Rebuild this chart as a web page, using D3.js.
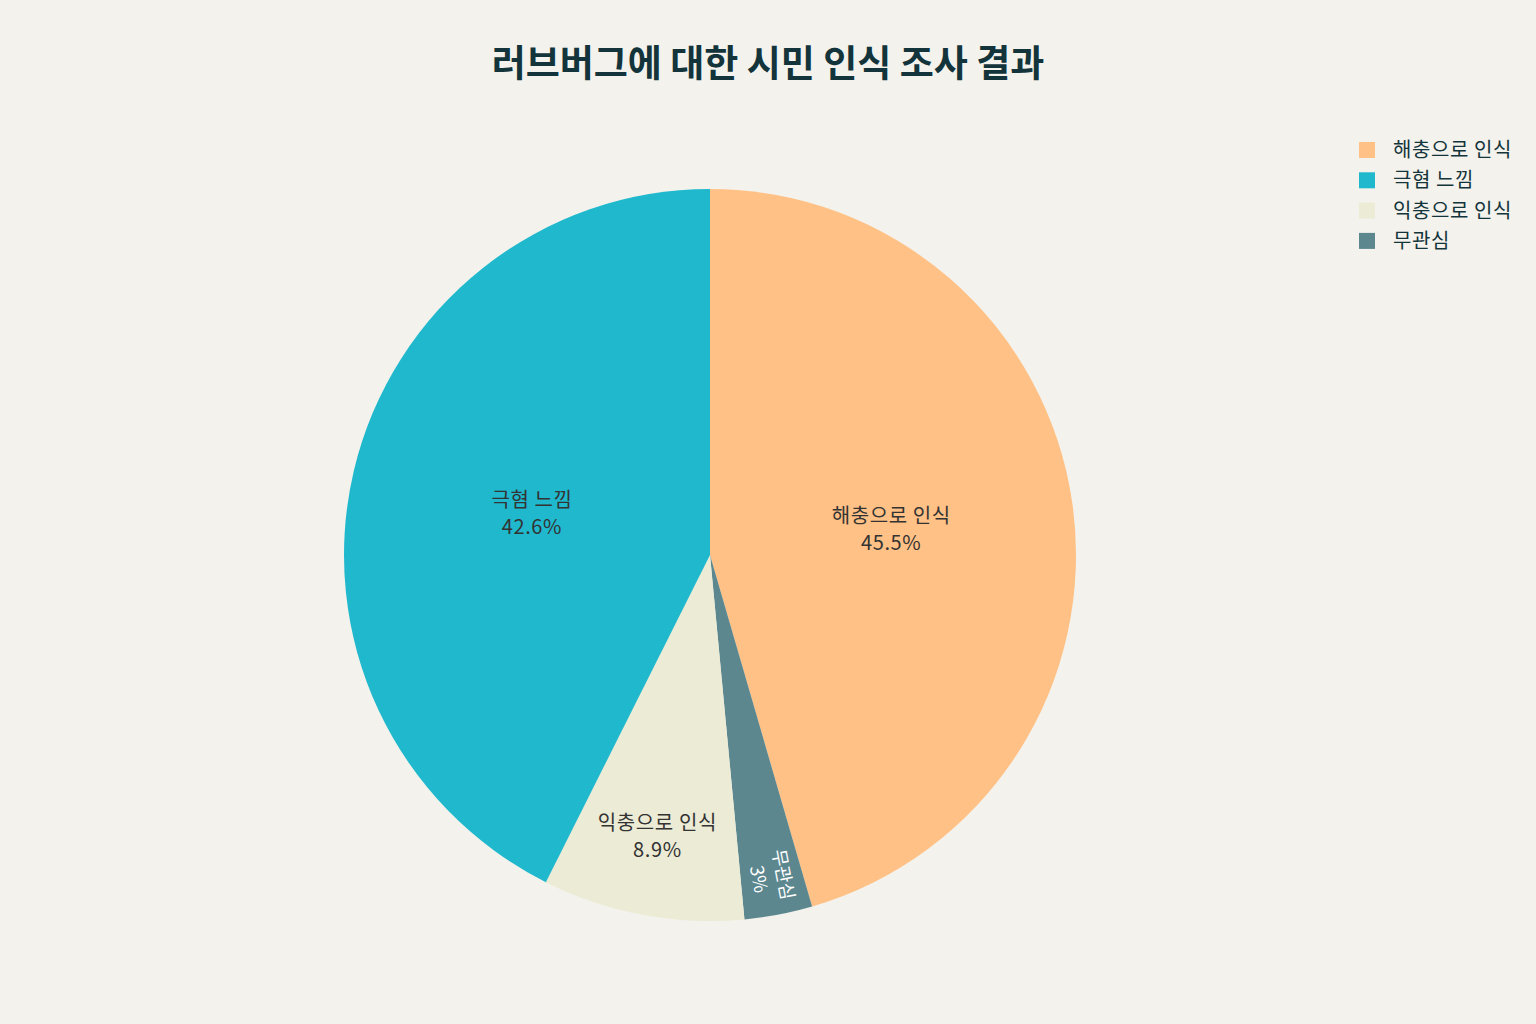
<!DOCTYPE html>
<html><head><meta charset="utf-8">
<script src="https://cdn.jsdelivr.net/npm/d3@7"></script>
<style>
html,body{margin:0;padding:0;background:#F3F2EC;}
svg text{font-family:"Noto Sans CJK KR","Noto Sans",sans-serif;}
</style></head>
<body>
<svg id="chart" width="1536" height="1024"></svg>
<script>
const title = "러브버그에 대한 시민 인식 조사 결과";
// drawing order (clockwise from 12 o'clock)
const categories = ["해충으로 인식", "무관심", "익충으로 인식", "극혐 느낌"];
const values = [45.5, 3, 8.9, 42.6];
const colors = ["#FFC185", "#5D878F", "#ECEBD5", "#1FB8CD"];
const legendOrder = ["해충으로 인식", "극혐 느낌", "익충으로 인식", "무관심"];

const svg = d3.select("#chart");
const W = 1536, H = 1024;
svg.append("rect").attr("width", W).attr("height", H).attr("fill", "#F3F2EC");

svg.append("text").attr("x", 768).attr("y", 77).attr("text-anchor", "middle")
  .attr("font-size", 37).attr("font-weight", 700).attr("fill", "#13343B").text(title);

const cx = 710, cy = 555, R = 366;
const color = d3.scaleOrdinal().domain(categories).range(colors);
const pie = d3.pie().sort(null).value(d => d.v);
const data = categories.map((c, i) => ({c, v: values[i]}));
const arcs = pie(data);
const arc = d3.arc().innerRadius(0).outerRadius(R);
const g = svg.append("g").attr("transform", `translate(${cx},${cy})`);
g.selectAll("path").data(arcs).join("path")
  .attr("d", arc).attr("fill", d => color(d.data.c));

function fmt(v){ return (Math.round(v*10)/10) + "%"; }
arcs.forEach(a => {
  const mid = (a.startAngle + a.endAngle) / 2;
  const frac = a.data.v;
  const small = frac < 5;
  let rf = frac > 20 ? 0.5 : (frac > 5 ? 0.78 : 0.895);
  const x = Math.sin(mid) * R * rf, y = -Math.cos(mid) * R * rf;
  const t = g.append("text").attr("text-anchor", "middle")
    .attr("font-size", small ? 18.5 : 20)
    .attr("letter-spacing", small ? "0px" : "0.6px")
    .attr("fill", small ? "#FFFFFF" : "#333333");
  let tr = `translate(${x},${y})`;
  if (small) {
    const rot = Math.atan2(-Math.cos(mid), Math.sin(mid)) * 180 / Math.PI;
    tr += ` rotate(${rot})`;
  }
  t.attr("transform", tr);
  t.append("tspan").attr("x", 0).attr("dy", "-0.3em").text(a.data.c);
  t.append("tspan").attr("x", 0).attr("dy", "1.35em").text(fmt(frac));
});

const lg = svg.append("g").attr("transform", "translate(1359,142)");
legendOrder.forEach((c, i) => {
  const row = lg.append("g").attr("transform", `translate(0,${i*30.3})`);
  row.append("rect").attr("width", 16).attr("height", 16).attr("fill", color(c));
  row.append("text").attr("x", 34).attr("y", 15).attr("font-size", 20)
    .attr("letter-spacing", "0.6px")
    .attr("fill", "#13343B").text(c);
});
</script>
</body></html>
